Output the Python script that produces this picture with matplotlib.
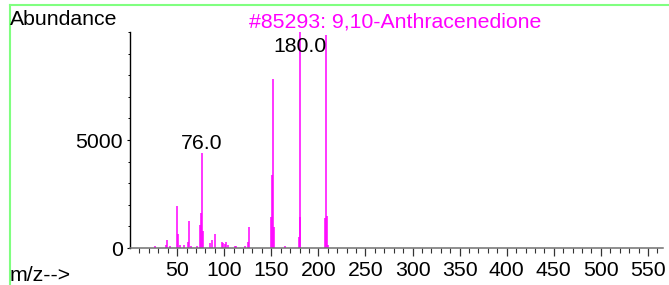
import matplotlib
matplotlib.use("Agg")
import matplotlib.pyplot as plt
from matplotlib.lines import Line2D
from matplotlib.ticker import MultipleLocator, FixedLocator

plt.rcParams["font.family"] = ["Liberation Sans", "DejaVu Sans"]

# Mass spectrum of 9,10-Anthracenedione
mz = [27, 38, 39, 43, 50, 51, 53, 57, 62, 63, 65, 71, 74, 75, 76, 77,
      85, 87, 90, 98, 99, 101, 102, 104, 111, 113, 122, 125, 126,
      150, 151, 152, 153, 165, 179, 180, 181, 207, 208, 209, 210]
abundance = [80, 120, 390, 95, 1930, 630, 120, 120, 280, 1230, 80, 75, 1050, 1640, 4410, 790,
             230, 355, 630, 290, 230, 170, 290, 150, 100, 100, 80, 280, 970,
             1440, 3360, 7810, 970, 90, 510, 10000, 1440, 1390, 9850, 1480, 150]
labeled = [76, 180]
title = "#85293: 9,10-Anthracenedione"

W, H = 669, 285
fs = 15.3
magenta = "#ff00ff"

fig = plt.figure(figsize=(W / 100, H / 100), dpi=100)
ax = fig.add_axes([130 / W, 37 / H, 533 / W, 216 / H])

ax.vlines(mz, 0, abundance, color=magenta, linewidth=1.1)
for m, h in zip(mz, abundance):
    if m in labeled:
        ax.annotate(f"{m:.1f}", (m, min(h, 8870)), xytext=(0, 3),
                    textcoords="offset points", ha="center", va="baseline",
                    fontsize=fs, color="black")

ax.set_xlim(0, 566)
ax.set_ylim(0, 10000)

for s in ["top", "right"]:
    ax.spines[s].set_visible(False)
ax.spines["left"].set_color("black")
ax.spines["left"].set_linewidth(1.0)
ax.spines["bottom"].set_color("#707070")
ax.spines["bottom"].set_linewidth(1.1)

ax.xaxis.set_major_locator(FixedLocator(range(50, 551, 50)))
ax.xaxis.set_minor_locator(FixedLocator([v for v in range(10, 561, 10) if v % 50]))
ax.yaxis.set_major_locator(FixedLocator([0, 5000]))
ax.yaxis.set_minor_locator(MultipleLocator(1000))

ax.tick_params(axis="x", which="major", direction="out", length=5.8, width=0.9,
               color="#333333", labelsize=fs, pad=3.2)
ax.tick_params(axis="x", which="minor", direction="out", length=3.4, width=0.8,
               color="#333333")
ax.tick_params(axis="y", which="major", direction="out", length=2, width=0.8,
               labelsize=fs, pad=3)
ax.tick_params(axis="y", which="minor", direction="out", length=1.2, width=0.7)

fig.text(10 / W, 1 - 25 / H, "Abundance", fontsize=fs, va="baseline", ha="left")
fig.text(395.5 / W, 1 - 27 / H, title, fontsize=fs, va="baseline", ha="center",
         color=magenta)
fig.text(10 / W, 4 / H, "m/z-->", fontsize=fs, va="baseline", ha="left")

# light green frame edges
green = "#80ff80"
fig.add_artist(Line2D([9.5 / W, 1], [1 - 4.5 / H, 1 - 4.5 / H], color=green,
                      linewidth=1.5, transform=fig.transFigure))
fig.add_artist(Line2D([9.5 / W, 9.5 / W], [0, 1 - 4.5 / H], color=green,
                      linewidth=1.5, transform=fig.transFigure))

fig.savefig("out.png", dpi=100)
plt.close(fig)
